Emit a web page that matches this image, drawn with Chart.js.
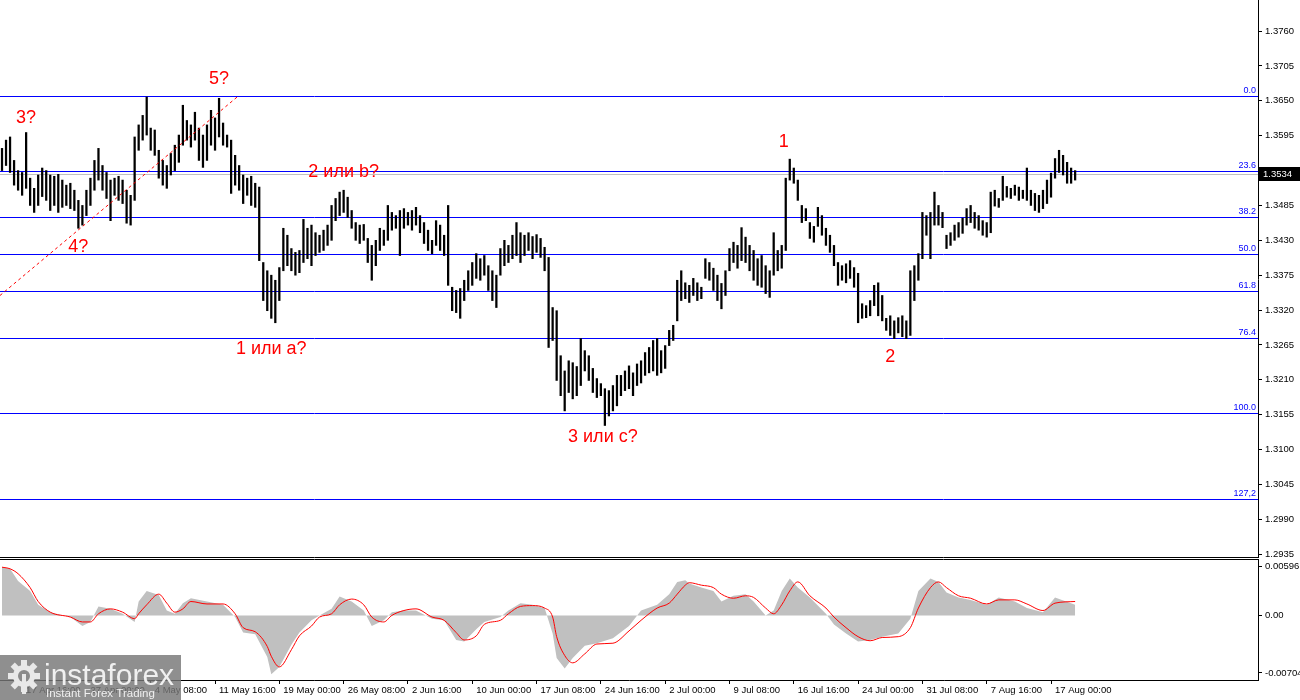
<!DOCTYPE html>
<html>
<head>
<meta charset="utf-8">
<title>GBP/USD H4</title>
<script src="https://cdn.jsdelivr.net/npm/chart.js@4.4.1/dist/chart.umd.min.js"></script>
<style>
body { margin: 0; background: #fff; overflow: hidden; }
#top { position: absolute; left: 0; top: 0; width: 1300px; height: 558px; }
#bottom { position: absolute; left: 0; top: 558px; width: 1300px; height: 142px; }
</style>
</head>
<body>
<div id="top"><canvas id="price"></canvas></div>
<div id="bottom"><canvas id="macd"></canvas></div>
<script>
// price bars (H4, two bars per slot)
var highs = [
  1.3575, 1.3588, 1.3593, 1.3556, 1.3540, 1.3537, 1.3600, 1.3528, 1.3512, 1.3533,
  1.3544, 1.3540, 1.3533, 1.3531, 1.3534, 1.3525, 1.3517, 1.3520, 1.3509, 1.3493,
  1.3485, 1.3509, 1.3528, 1.3556, 1.3575, 1.3548, 1.3537, 1.3525, 1.3528, 1.3531,
  1.3525, 1.3509, 1.3501, 1.3593, 1.3612, 1.3627, 1.3656, 1.3607, 1.3604, 1.3572,
  1.3556, 1.3548, 1.3567, 1.3580, 1.3596, 1.3643, 1.3619, 1.3612, 1.3632, 1.3607,
  1.3596, 1.3612, 1.3635, 1.3623, 1.3654, 1.3615, 1.3596, 1.3588, 1.3564, 1.3548,
  1.3533, 1.3528, 1.3531, 1.3520, 1.3514, 1.3395, 1.3382, 1.3375, 1.3367, 1.3387,
  1.3449, 1.3438, 1.3417, 1.3411, 1.3414, 1.3463, 1.3449, 1.3454, 1.3442, 1.3438,
  1.3446, 1.3454, 1.3485, 1.3496, 1.3506, 1.3509, 1.3498, 1.3477, 1.3458, 1.3454,
  1.3455, 1.3433, 1.3422, 1.3430, 1.3449, 1.3446, 1.3485, 1.3474, 1.3469, 1.3477,
  1.3480, 1.3474, 1.3477, 1.3482, 1.3469, 1.3458, 1.3446, 1.3430, 1.3461, 1.3454,
  1.3438, 1.3485, 1.3356, 1.3351, 1.3354, 1.3367, 1.3382, 1.3395, 1.3409, 1.3401,
  1.3406, 1.3390, 1.3382, 1.3375, 1.3417, 1.3430, 1.3422, 1.3438, 1.3458, 1.3442,
  1.3438, 1.3442, 1.3436, 1.3439, 1.3433, 1.3419, 1.3403, 1.3324, 1.3319, 1.3248,
  1.3224, 1.3240, 1.3237, 1.3231, 1.3275, 1.3256, 1.3248, 1.3228, 1.3212, 1.3204,
  1.3196, 1.3193, 1.3201, 1.3217, 1.3217, 1.3224, 1.3232, 1.3221, 1.3235, 1.3240,
  1.3253, 1.3261, 1.3272, 1.3275, 1.3256, 1.3264, 1.3288, 1.3296, 1.3367, 1.3382,
  1.3363, 1.3359, 1.3370, 1.3363, 1.3356, 1.3401, 1.3395, 1.3386, 1.3375, 1.3362,
  1.3382, 1.3417, 1.3427, 1.3422, 1.3450, 1.3435, 1.3422, 1.3414, 1.3401, 1.3406,
  1.3390, 1.3382, 1.3442, 1.3414, 1.3422, 1.3528, 1.3558, 1.3544, 1.3525, 1.3485,
  1.3480, 1.3458, 1.3452, 1.3482, 1.3469, 1.3449, 1.3438, 1.3422, 1.3395, 1.3390,
  1.3393, 1.3398, 1.3387, 1.3378, 1.3330, 1.3327, 1.3335, 1.3359, 1.3363, 1.3343,
  1.3307, 1.3311, 1.3303, 1.3308, 1.3311, 1.3303, 1.3382, 1.3390, 1.3409, 1.3474,
  1.3469, 1.3474, 1.3506, 1.3485, 1.3474, 1.3438, 1.3442, 1.3454, 1.3458, 1.3465,
  1.3480, 1.3485, 1.3474, 1.3469, 1.3461, 1.3458, 1.3506, 1.3509, 1.3496, 1.3531,
  1.3515, 1.3512, 1.3517, 1.3514, 1.3509, 1.3544, 1.3509, 1.3504, 1.3501, 1.3509,
  1.3525, 1.3536, 1.3559, 1.3572, 1.3564, 1.3553, 1.3544, 1.3540
];
var lows = [
  1.3540, 1.3548, 1.3537, 1.3517, 1.3509, 1.3501, 1.3512, 1.3485, 1.3474, 1.3485,
  1.3499, 1.3493, 1.3477, 1.3485, 1.3474, 1.3482, 1.3485, 1.3480, 1.3477, 1.3449,
  1.3454, 1.3469, 1.3485, 1.3509, 1.3525, 1.3509, 1.3496, 1.3461, 1.3501, 1.3493,
  1.3488, 1.3457, 1.3454, 1.3493, 1.3572, 1.3588, 1.3596, 1.3572, 1.3564, 1.3528,
  1.3517, 1.3512, 1.3533, 1.3540, 1.3553, 1.3580, 1.3588, 1.3577, 1.3588, 1.3556,
  1.3545, 1.3556, 1.3580, 1.3572, 1.3593, 1.3580, 1.3577, 1.3504, 1.3517, 1.3509,
  1.3488, 1.3501, 1.3485, 1.3482, 1.3398, 1.3335, 1.3319, 1.3307, 1.3300, 1.3335,
  1.3382, 1.3390, 1.3382, 1.3375, 1.3379, 1.3395, 1.3401, 1.3390, 1.3406, 1.3411,
  1.3414, 1.3422, 1.3430, 1.3461, 1.3469, 1.3474, 1.3466, 1.3449, 1.3430, 1.3425,
  1.3430, 1.3395, 1.3367, 1.3390, 1.3414, 1.3422, 1.3430, 1.3446, 1.3449, 1.3406,
  1.3449, 1.3454, 1.3446, 1.3454, 1.3442, 1.3425, 1.3414, 1.3409, 1.3422, 1.3414,
  1.3406, 1.3359, 1.3319, 1.3316, 1.3307, 1.3335, 1.3351, 1.3359, 1.3370, 1.3367,
  1.3375, 1.3351, 1.3335, 1.3324, 1.3375, 1.3390, 1.3395, 1.3401, 1.3406, 1.3395,
  1.3406, 1.3414, 1.3401, 1.3411, 1.3403, 1.3382, 1.3261, 1.3272, 1.3209, 1.3185,
  1.3161, 1.3190, 1.3180, 1.3185, 1.3201, 1.3224, 1.3209, 1.3190, 1.3182, 1.3185,
  1.3138, 1.3153, 1.3161, 1.3169, 1.3185, 1.3193, 1.3196, 1.3185, 1.3201, 1.3205,
  1.3217, 1.3221, 1.3224, 1.3217, 1.3221, 1.3228, 1.3264, 1.3272, 1.3303, 1.3335,
  1.3338, 1.3332, 1.3343, 1.3335, 1.3338, 1.3370, 1.3367, 1.3351, 1.3335, 1.3322,
  1.3343, 1.3382, 1.3395, 1.3386, 1.3398, 1.3395, 1.3382, 1.3367, 1.3359, 1.3356,
  1.3346, 1.3340, 1.3375, 1.3382, 1.3386, 1.3414, 1.3525, 1.3520, 1.3493, 1.3458,
  1.3461, 1.3433, 1.3427, 1.3452, 1.3438, 1.3422, 1.3411, 1.3390, 1.3359, 1.3367,
  1.3363, 1.3370, 1.3356, 1.3300, 1.3307, 1.3308, 1.3311, 1.3327, 1.3311, 1.3303,
  1.3288, 1.3280, 1.3275, 1.3284, 1.3278, 1.3275, 1.3280, 1.3335, 1.3367, 1.3401,
  1.3438, 1.3401, 1.3454, 1.3454, 1.3450, 1.3417, 1.3422, 1.3430, 1.3435, 1.3441,
  1.3454, 1.3458, 1.3449, 1.3446, 1.3438, 1.3435, 1.3442, 1.3484, 1.3482, 1.3493,
  1.3498, 1.3496, 1.3501, 1.3493, 1.3496, 1.3493, 1.3485, 1.3477, 1.3474, 1.3480,
  1.3488, 1.3498, 1.3528, 1.3537, 1.3533, 1.3520, 1.3520, 1.3525
];
var lastPrice = 1.3534;

// fibonacci grid
var fibNames = ['0.0', '23.6', '38.2', '50.0', '61.8', '76.4', '100.0', '127,2'];
var fibPrices = [1.3657, 1.3540, 1.3466, 1.3408, 1.3350, 1.3276, 1.3158, 1.3022];

// wave marks (slot, price)
var waveText = ['3?', '4?', '5?', '1 или a?', '2 или b?', '3 или c?', '1', '2'];
var waveIdx = [6, 19, 54, 67, 85, 149.5, 194.5, 221];
var wavePrice = [1.3623, 1.3420, 1.3684, 1.3259, 1.3537, 1.3119, 1.3585, 1.3246];

// dotted trend line
var trendIdx = [-0.5, 58.5];
var trendPrice = [1.3343, 1.3656];

// MACD (histogram + signal), sampled along the slots
var macdIdx = [0, 2, 4, 7, 9, 12, 17, 20, 22, 24, 27, 30, 33, 34, 36, 39, 41, 43, 45, 47,
  51, 55, 58, 60, 63, 66, 67, 69, 72, 74, 77, 79, 82, 84, 87, 90, 92, 95, 97, 100,
  103, 107, 110, 113, 115, 118, 120, 124, 126, 129, 132, 135, 137, 138, 140, 142, 145, 148, 152, 156,
  159, 163, 166, 168, 170, 171, 174, 177, 179, 182, 185, 187, 190, 192, 194, 196, 198, 201, 205, 207,
  210, 213, 216, 219, 223, 226, 228, 231, 233, 235, 238, 241, 245, 248, 252, 255, 259, 262, 267];
var histVals = [0.0059, 0.0057, 0.0042, 0.0030, 0.0013, 0.0004, -0.0002, -0.0013, -0.0008, 0.0011,
  0.0008, 0.0002, -0.0008, 0.0017, 0.0030, 0.0025, 0.0006, 0.0002, 0.0015, 0.0021,
  0.0017, 0.0013, -0.0002, -0.0021, -0.0023, -0.0051, -0.0072, -0.0063, -0.0036, -0.0021,
  -0.0006, 0.0000, 0.0008, 0.0023, 0.0017, 0.0006, -0.0013, -0.0006, 0.0004, 0.0006,
  0.0006, -0.0004, -0.0006, -0.0030, -0.0032, -0.0017, -0.0008, -0.0002, 0.0006, 0.0015,
  0.0013, 0.0009, -0.0022, -0.0052, -0.0065, -0.0052, -0.0037, -0.0034, -0.0028, -0.0013,
  0.0006, 0.0013, 0.0026, 0.0041, 0.0043, 0.0039, 0.0034, 0.0030, 0.0017, 0.0024,
  0.0026, 0.0017, 0.0000, 0.0006, 0.0030, 0.0045, 0.0034, 0.0022, 0.0002, -0.0011,
  -0.0022, -0.0032, -0.0030, -0.0026, -0.0022, -0.0004, 0.0030, 0.0045, 0.0041, 0.0028,
  0.0022, 0.0019, 0.0013, 0.0022, 0.0017, 0.0009, 0.0004, 0.0022, 0.0013];
var signalVals = [0.0059, 0.0057, 0.0051, 0.0034, 0.0017, 0.0004, -0.0002, -0.0008, -0.0008, 0.0002,
  0.0008, 0.0004, -0.0004, 0.0002, 0.0013, 0.0026, 0.0015, 0.0004, 0.0008, 0.0017,
  0.0014, 0.0014, 0.0002, -0.0015, -0.0020, -0.0038, -0.0050, -0.0063, -0.0042, -0.0025,
  -0.0013, -0.0002, 0.0002, 0.0013, 0.0020, 0.0013, -0.0002, -0.0008, 0.0000, 0.0006,
  0.0008, -0.0002, -0.0006, -0.0021, -0.0030, -0.0025, -0.0011, -0.0006, 0.0002, 0.0011,
  0.0012, 0.0009, -0.0002, -0.0026, -0.0049, -0.0058, -0.0047, -0.0035, -0.0034, -0.0019,
  -0.0006, 0.0009, 0.0015, 0.0026, 0.0037, 0.0040, 0.0037, 0.0034, 0.0026, 0.0021,
  0.0024, 0.0022, 0.0009, 0.0002, 0.0013, 0.0030, 0.0041, 0.0024, 0.0009, -0.0002,
  -0.0015, -0.0026, -0.0031, -0.0027, -0.0026, -0.0015, 0.0009, 0.0034, 0.0041, 0.0034,
  0.0024, 0.0021, 0.0014, 0.0019, 0.0019, 0.0014, 0.0006, 0.0015, 0.0017];

// axis ticks
var priceTicks = [1.2935, 1.2990, 1.3045, 1.3100, 1.3155, 1.3210, 1.3265, 1.3320, 1.3375,
  1.3430, 1.3485, 1.3540, 1.3595, 1.3650, 1.3705, 1.3760];
var macdTicks = [0.00596, 0, -0.00704];
var macdTickText = ['0.00596', '0.00', '-0.00704'];
var timeIdx = [5, 21, 37, 53, 69, 85, 101, 117, 133, 149, 165, 181, 197, 213, 229, 245, 261];
var timeLabels = ['17 Apr 16:00', '27 Apr 00:00', '4 May 08:00', '11 May 16:00', '19 May 00:00',
  '26 May 08:00', '2 Jun 16:00', '10 Jun 00:00', '17 Jun 08:00', '24 Jun 16:00', '2 Jul 00:00',
  '9 Jul 08:00', '16 Jul 16:00', '24 Jul 00:00', '31 Jul 08:00', '7 Aug 16:00', '17 Aug 00:00'];
var slotCount = 313;

var axisFont = { family: '"Liberation Sans", Arial, sans-serif', size: 9.5 };

function hline(ctx, x0, x1, y) {
  ctx.beginPath();
  ctx.moveTo(x0, y);
  ctx.lineTo(x1, y);
  ctx.stroke();
}

// right axis: fixed width, no extra padding above/below the plot
function fitRight(s) {
  s.width = 42;
  s.paddingTop = 0;
  s.paddingBottom = 0;
}

var priceOverlay = {
  id: 'priceOverlay',
  beforeDatasetsDraw: function(chart) {
    var ctx = chart.ctx, a = chart.chartArea, y = chart.scales.y;
    ctx.save();
    ctx.lineWidth = 1;
    ctx.strokeStyle = '#c0c0c0';
    hline(ctx, a.left, a.right, Math.round(y.getPixelForValue(lastPrice)) + 0.5);
    ctx.strokeStyle = '#0000ff';
    ctx.fillStyle = '#0000ff';
    ctx.font = '9px "Liberation Sans", Arial, sans-serif';
    ctx.textAlign = 'right';
    ctx.textBaseline = 'bottom';
    for (var i = 0; i < fibNames.length; i++) {
      var py = Math.round(y.getPixelForValue(fibPrices[i])) + 0.5;
      hline(ctx, a.left, a.right, py);
      ctx.fillText(fibNames[i], a.right - 2, py - 1);
    }
    ctx.restore();
  },
  afterDraw: function(chart) {
    var ctx = chart.ctx, a = chart.chartArea, x = chart.scales.x, y = chart.scales.y;
    ctx.save();
    ctx.fillStyle = '#ff0000';
    ctx.font = '18px "Liberation Sans", Arial, sans-serif';
    ctx.textAlign = 'center';
    ctx.textBaseline = 'middle';
    for (var i = 0; i < waveText.length; i++) {
      ctx.fillText(waveText[i], x.getPixelForValue(waveIdx[i]), y.getPixelForValue(wavePrice[i]));
    }
    ctx.strokeStyle = '#000';
    ctx.lineWidth = 1;
    hline(ctx, a.left, a.right, a.bottom - 0.5);
    // last price tag
    var ty = Math.round(y.getPixelForValue(lastPrice));
    ctx.fillStyle = '#000';
    ctx.fillRect(a.right + 1, ty - 7, 41, 14);
    ctx.fillStyle = '#fff';
    ctx.font = '9.5px "Liberation Sans", Arial, sans-serif';
    ctx.textAlign = 'left';
    ctx.fillText(lastPrice.toFixed(4), a.right + 5, ty);
    ctx.restore();
  }
};

var macdOverlay = {
  id: 'macdOverlay',
  afterDraw: function(chart) {
    var ctx = chart.ctx, a = chart.chartArea;
    ctx.save();
    ctx.strokeStyle = '#000';
    ctx.lineWidth = 1;
    hline(ctx, a.left, a.right, a.top + 0.5);
    // logo
    ctx.fillStyle = 'rgba(118,118,118,0.82)';
    ctx.fillRect(0, 97, 181, 45);
    ctx.fillStyle = '#e8e8e8';
    ctx.beginPath();
    ctx.arc(24, 118, 11, 0, Math.PI * 2);
    ctx.fill();
    for (var k = 0; k < 8; k++) {
      ctx.save();
      ctx.translate(24, 118);
      ctx.rotate(k * Math.PI / 4);
      ctx.fillRect(-3, -16, 6, 7);
      ctx.restore();
    }
    ctx.fillStyle = '#8a8a8a';
    ctx.beginPath();
    ctx.arc(24, 118, 6, 0, Math.PI * 2);
    ctx.fill();
    ctx.fillStyle = '#e8e8e8';
    ctx.fillRect(22, 116, 4, 20);
    ctx.fillStyle = '#f0f0f0';
    ctx.font = '30px "Liberation Sans", Arial, sans-serif';
    ctx.textAlign = 'left';
    ctx.textBaseline = 'alphabetic';
    ctx.fillText('instaforex', 44, 127);
    ctx.font = '11.5px "Liberation Sans", Arial, sans-serif';
    ctx.fillText('Instant Forex Trading', 46, 139);
    ctx.restore();
  }
};

var barData = [];
for (var i = 0; i < highs.length; i++) {
  barData.push({ x: i, y: [lows[i], highs[i]] });
}
var trendData = trendIdx.map(function(v, i) { return { x: v, y: trendPrice[i] }; });
var histData = macdIdx.map(function(v, i) { return { x: v, y: histVals[i] }; });
var signalData = macdIdx.map(function(v, i) { return { x: v, y: signalVals[i] }; });

new Chart(document.getElementById('price'), {
  type: 'bar',
  data: {
    datasets: [
      { type: 'line', data: trendData, borderColor: '#ff0000', borderWidth: 1, borderDash: [3, 3], pointRadius: 0, fill: false },
      { type: 'bar', data: barData, backgroundColor: '#000', borderWidth: 0, barThickness: 1.6, grouped: false }
    ]
  },
  options: {
    animation: false,
    responsive: true,
    maintainAspectRatio: false,
    events: [],
    layout: { padding: 0 },
    plugins: { legend: { display: false }, tooltip: { enabled: false } },
    scales: {
      x: { type: 'linear', min: -0.5, max: slotCount - 0.5, offset: false, display: false },
      y: {
        position: 'right',
        min: 1.2929,
        max: 1.3809,
        afterFit: fitRight,
        afterBuildTicks: function(s) { s.ticks = priceTicks.map(function(v) { return { value: v }; }); },
        ticks: { callback: function(v) { return v.toFixed(4); }, font: axisFont, color: '#000', padding: 3 },
        grid: { drawOnChartArea: false, tickLength: 4, color: '#000' },
        border: { color: '#000' }
      }
    }
  },
  plugins: [priceOverlay]
});

new Chart(document.getElementById('macd'), {
  type: 'line',
  data: {
    datasets: [
      { data: signalData, borderColor: '#ff0000', borderWidth: 1, pointRadius: 0, fill: false, cubicInterpolationMode: 'monotone' },
      { data: histData, borderWidth: 0, borderColor: 'rgba(0,0,0,0)', backgroundColor: '#c0c0c0', pointRadius: 0, fill: 'origin' }
    ]
  },
  options: {
    animation: false,
    responsive: true,
    maintainAspectRatio: false,
    events: [],
    layout: { padding: { top: 1 } },
    plugins: { legend: { display: false }, tooltip: { enabled: false } },
    scales: {
      x: {
        type: 'linear',
        min: -0.5,
        max: slotCount - 0.5,
        offset: false,
        afterFit: function(s) { s.height = 20; s.paddingLeft = 0; s.paddingRight = 0; },
        afterBuildTicks: function(s) { s.ticks = timeIdx.map(function(v) { return { value: v }; }); },
        ticks: {
          callback: function(v, i) { return timeLabels[i]; },
          align: 'start', labelOffset: 4, autoSkip: false, maxRotation: 0,
          font: axisFont, color: '#000', padding: 1
        },
        grid: { drawOnChartArea: false, tickLength: 4, color: '#000' },
        border: { color: '#000' }
      },
      y: {
        position: 'right',
        min: -0.0079,
        max: 0.0069,
        afterFit: fitRight,
        afterBuildTicks: function(s) { s.ticks = macdTicks.map(function(v) { return { value: v }; }); },
        ticks: { callback: function(v, i) { return macdTickText[i]; }, font: axisFont, color: '#000', padding: 3 },
        grid: { drawOnChartArea: false, tickLength: 4, color: '#000' },
        border: { color: '#000' }
      }
    }
  },
  plugins: [macdOverlay]
});
</script>
</body>
</html>
